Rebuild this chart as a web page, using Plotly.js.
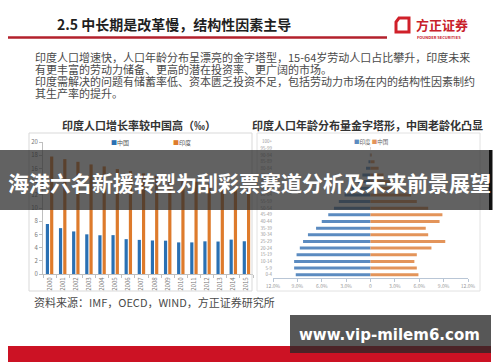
<!DOCTYPE html>
<html>
<head>
<meta charset="utf-8">
<script src="https://cdn.plot.ly/plotly-3.0.1.min.js"></script>
<style>
html,body{margin:0;padding:0;background:#fff;}
#chart{width:500px;height:362px;}
</style>
</head>
<body>
<div id="chart"></div>
<script>
// ---- data ----
const years = ['2000','2001','2002','2003','2004','2005','2006','2007','2008','2009','2010','2011','2012','2013','2014','2015'];
const chinaRate = [7.58,6.95,6.45,6.01,5.87,5.89,5.28,5.17,5.08,5.05,4.79,4.79,4.95,4.92,5.21,4.96];
const indiaRate = [17.8,17.4,17.0,16.6,16.3,15.9,15.6,15.25,14.9,14.6,14.3,14.0,13.7,13.4,13.1,12.8];

const ageGroups = ['0-4','5-9','10-14','15-19','20-24','25-29','30-34','35-39','40-44','45-49','50-54','55-59','60-64','65-69','70-74','75-79','80-84','85-89','90-94','95-99','100+'];
const indiaShare = [9.2,9.4,9.4,9.1,8.7,8.3,7.7,6.7,6.0,5.2,4.5,3.9,3.2,2.3,1.6,1.0,0.55,0.25,0.08,0.02,0.0];
const chinaShare = [5.9,5.7,5.4,5.7,7.5,9.2,7.1,6.8,8.5,8.85,7.1,5.7,5.0,3.6,2.4,1.6,1.0,0.5,0.15,0.03,0.0];

const pyrTickVals = [-12,-9,-6,-3,0,3,6,9,12];
const pyrTickText = ['12.0%','9.0%','6.0%','3.0%','0','3.0%','6.0%','9.0%','12.0%'];

// ---- helpers (pixel -> paper) ----
const W = 500, H = 362;
const px = x => x / W;
const py = y => 1 - y / H;
const FONT = '"Noto Sans CJK SC", "Noto Sans", sans-serif';

const traces = [
  {type:'bar', x: years, y: chinaRate, name:'中国', xaxis:'x', yaxis:'y',
   marker:{color:'#2a70b3'}, showlegend:false, hoverinfo:'none'},
  {type:'bar', x: years, y: indiaRate, name:'印度', xaxis:'x', yaxis:'y',
   marker:{color:'#de7b2c'}, showlegend:false, hoverinfo:'none'},
  {type:'bar', orientation:'h', y: ageGroups, x: indiaShare.map(v => -v), name:'印度',
   xaxis:'x2', yaxis:'y2', width:0.45, offset:-0.225,
   marker:{color:'#5b8bc0'}, showlegend:false, hoverinfo:'none'},
  {type:'bar', orientation:'h', y: ageGroups, x: chinaShare, name:'中国',
   xaxis:'x2', yaxis:'y2', width:0.45, offset:-0.225,
   marker:{color:'#e3945a'}, showlegend:false, hoverinfo:'none'}
];

function rect(x0,y0,x1,y1,fill,line,lw){
  return {type:'rect', xref:'paper', yref:'paper', x0:px(x0), x1:px(x1), y0:py(y1), y1:py(y0),
    fillcolor: fill || 'rgba(0,0,0,0)', line:{color: line || 'rgba(0,0,0,0)', width: lw || 0}, layer:'above'};
}
function txt(x,y,text,size,color,anchor,extra){
  return Object.assign({xref:'paper', yref:'paper', x:px(x), y:py(y), text:text, showarrow:false,
    xanchor: anchor || 'left', yanchor:'middle',
    font:{family:FONT, size:size, color:color}}, extra || {});
}

const shapes = [
  // header red line
  {type:'line', xref:'paper', yref:'paper', x0:px(8), x1:px(387), y0:py(37.5), y1:py(37.5),
   line:{color:'#b3212c', width:2.5}},
  // logo icon
  {type:'path', xref:'paper', yref:'paper',
   path:`M${px(399)},${py(18)} L${px(409)},${py(18)} L${px(409)},${py(32)} L${px(396)},${py(32)} L${px(396)},${py(22)} Z`,
   line:{color:'#d0202a', width:3}, fillcolor:'rgba(0,0,0,0)'},
  // chart boxes
  rect(29,133,252,291,null,'#d9d9d9',1),
  rect(257,133,480,291,null,'#e2e2e2',1),
  // footer red band
  rect(8,346,491,362,'#cc1224',null,0),
  // overlay banner
  rect(0,150,489,210,'rgba(45,45,45,0.75)',null,0),
  rect(489,150,492.5,210,'#111111',null,0),
  // watermark box
  rect(290,315,491,353,'rgba(40,40,40,0.78)',null,0)
];

const annotations = [
  txt(55,24,'<b>2.5 中长期是改革慢，结构性因素主导</b>',14,'#1f1f1f','left'),
  txt(414,24,'<b>方正证券</b>',13,'#c8202a','left'),
  txt(415,37.5,'<b>FOUNDER SECURITIES</b>',4,'#c8202a','left'),
  txt(33,57,'印度人口增速快，人口年龄分布呈漂亮的金字塔型，15-64岁劳动人口占比攀升，印度未来',11,'#4a4a4a','left'),
  txt(33,69,'有更丰富的劳动力储备、更高的潜在投资率、更广阔的市场。',11,'#4a4a4a','left'),
  txt(33,81,'印度需解决的问题有储蓄率低、资本匮乏投资不足，包括劳动力市场在内的结构性因素制约',11,'#4a4a4a','left'),
  txt(33,93,'其生产率的提升。',11,'#4a4a4a','left'),
  txt(139,125,'<b>印度人口增长率较中国高（‰）</b>',11,'#333','center'),
  txt(367,125,'<b>印度人口年龄分布量金字塔形，中国老龄化凸显</b>',11,'#333','center'),
  txt(109,143,'<span style="color:#2a70b3">■</span>中国',6,'#555','left'),
  txt(171,143,'<span style="color:#de7b2c">■</span>印度',6,'#555','left'),
  txt(352,142,'<span style="color:#5b8bc0">■</span>印度 <span style="color:#e3945a">■</span>中国',5.5,'#666','left'),
  txt(32,302,'资料来源：IMF，OECD，WIND，方正证券研究所',11,'#4a4a4a','left'),
  txt(249,182,'<b>海港六名新援转型为刮彩票赛道分析及未来前景展望</b>',21,'#ffffff','center'),
  {xref:'paper', yref:'paper', x:px(389), y:py(335), text:'<b>www.vip-milem6.com</b>', showarrow:false,
   xanchor:'center', yanchor:'middle', font:{family:'"DejaVu Sans", sans-serif', size:15, color:'#ffffff'}}
];

const layout = {
  width: W, height: H,
  margin:{l:0, r:0, t:0, b:0},
  paper_bgcolor:'#ffffff', plot_bgcolor:'rgba(0,0,0,0)',
  barmode:'group', bargap:0.35, bargroupgap:0.25,
  font:{family:FONT},
  showlegend:false,
  xaxis:{domain:[px(43), px(253)], anchor:'y', type:'category',
    tickangle:-90, tickfont:{size:6, color:'#777'},
    showline:true, linecolor:'#bfbfbf', linewidth:1,
    ticks:'outside', ticklen:3, tickcolor:'#bfbfbf', tickson:'boundaries',
    showgrid:false, zeroline:false, fixedrange:true},
  yaxis:{domain:[py(274), py(142)], anchor:'x', range:[0,20], dtick:2,
    tickfont:{size:6, color:'#777'},
    showline:true, linecolor:'#bfbfbf', linewidth:1,
    ticks:'outside', ticklen:3, tickcolor:'#bfbfbf',
    showgrid:false, zeroline:false, fixedrange:true},
  xaxis2:{domain:[px(273), px(468)], anchor:'y2', range:[-12,12],
    tickvals: pyrTickVals, ticktext: pyrTickText,
    tickfont:{size:5, color:'#999'},
    showline:true, linecolor:'#b9c6d6', linewidth:1,
    ticks:'outside', ticklen:3, tickcolor:'#b9c6d6',
    showgrid:false, zeroline:false, fixedrange:true},
  yaxis2:{domain:[py(278), py(138.4)], anchor:'x2', type:'category',
    range:[-0.5, 20.5],
    tickfont:{size:4.5, color:'#999'},
    showline:false, ticks:'', showgrid:false, zeroline:false, fixedrange:true},
  shapes: shapes,
  annotations: annotations
};

Plotly.newPlot('chart', traces, layout, {staticPlot:true, displayModeBar:false});
</script>
</body>
</html>
